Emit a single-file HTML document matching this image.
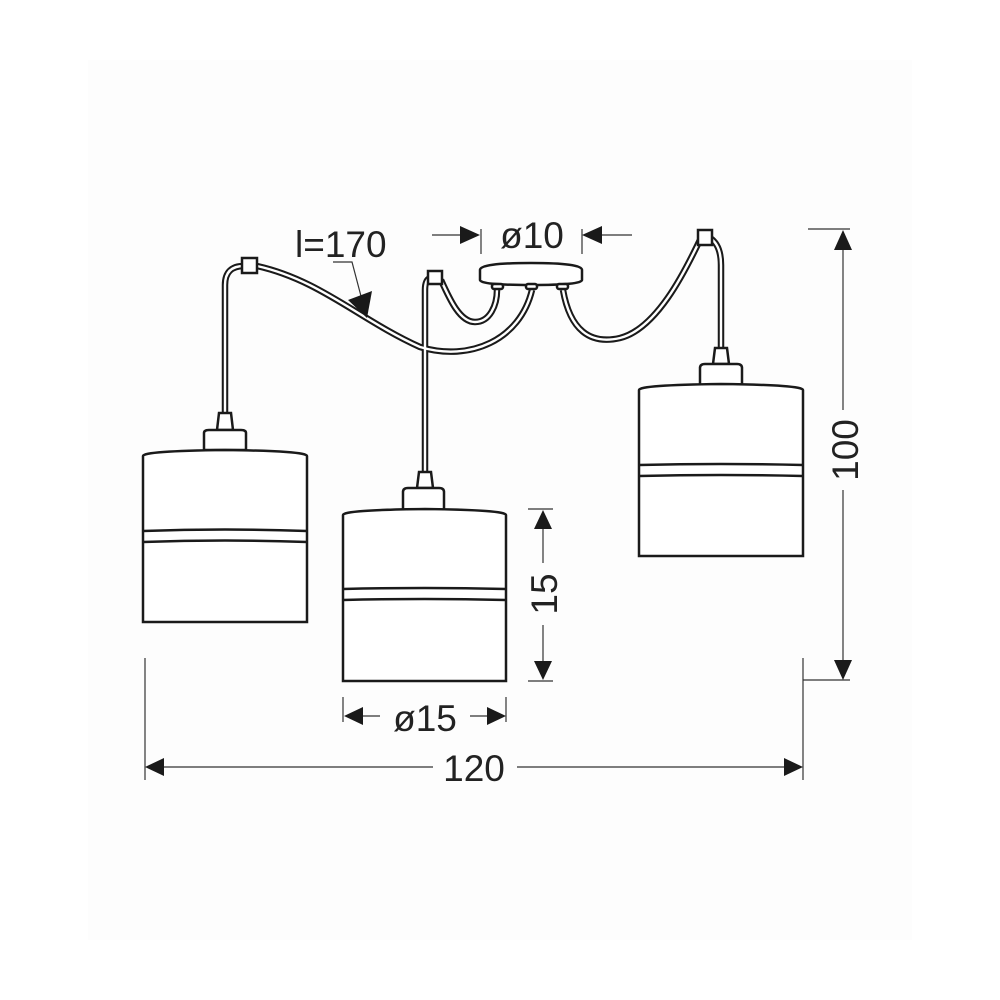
<!DOCTYPE html>
<html><head><meta charset="utf-8"><style>
html,body{margin:0;padding:0;background:#fff;}
svg{display:block;}
text{font-family:"Liberation Sans",sans-serif;fill:#222;}
</style></head><body>
<svg width="1000" height="1000" viewBox="0 0 1000 1000" xmlns="http://www.w3.org/2000/svg">
<rect x="0" y="0" width="1000" height="1000" fill="#fff"/>
<rect x="88" y="60" width="824" height="880" fill="#fdfdfd"/>

<g fill="none" stroke-linecap="butt">
 <g stroke="#1a1a1a" stroke-width="6.5">
  <path d="M225 413 L225 285 Q225 266 244 266"/>
  <path d="M257 266 C320 280 360 320 420 347 C470 362 520 340 532 290"/>
  <path d="M425 472 L425 290 Q425 280 430 278"/>
  <path d="M441 280 C450 300 460 322 475 322 C490 322 497 305 497 290"/>
  <path d="M563 290 C570 330 590 345 620 338 C660 328 690 260 700 240"/>
  <path d="M710 238 Q721 245 721 265 L721 348"/>
 </g>
 <g stroke="#fff" stroke-width="2.4">
  <path d="M225 413 L225 285 Q225 266 244 266"/>
  <path d="M257 266 C320 280 360 320 420 347 C470 362 520 340 532 290"/>
  <path d="M425 472 L425 290 Q425 280 430 278"/>
  <path d="M441 280 C450 300 460 322 475 322 C490 322 497 305 497 290"/>
  <path d="M563 290 C570 330 590 345 620 338 C660 328 690 260 700 240"/>
  <path d="M710 238 Q721 245 721 265 L721 348"/>
 </g>
</g>

<g fill="#fff" stroke="#1a1a1a" stroke-width="2.5">
 <rect x="242" y="258" width="15" height="15"/>
 <rect x="428" y="271" width="14" height="13"/>
 <rect x="698" y="230" width="14" height="15"/>
 <path d="M480 270 Q480 263 531 263 Q582 263 582 270 L582 280 Q582 285 531 285 Q480 285 480 280 Z"/>
 <rect x="492" y="284" width="11" height="5" rx="2"/>
 <rect x="526" y="284" width="11" height="5" rx="2"/>
 <rect x="557" y="284" width="11" height="5" rx="2"/>

 <path d="M219 413 L231 413 L233 430 L217 430 Z"/>
 <path d="M204 450 L204 433 Q204 430 209 430 L241 430 Q246 430 246 433 L246 450 Z"/>
 <path d="M143 456 Q143 451 225 450 Q307 451 307 456 L307 622 L143 622 Z"/>
 <path d="M143 531 Q225 528 307 531 M143 542 Q225 539 307 542" fill="none"/>

 <path d="M419 472 L431 472 L433 488 L417 488 Z"/>
 <path d="M403 510 L403 492 Q403 488 408 488 L439 488 Q444 488 444 492 L444 510 Z"/>
 <path d="M343 515 Q343 510 425 509 Q506 510 506 515 L506 681 L343 681 Z"/>
 <path d="M343 589 Q425 587 506 589 M343 600 Q425 598 506 600" fill="none"/>

 <path d="M715 348 L727 348 L729 364 L713 364 Z"/>
 <path d="M700 385 L700 368 Q700 364 705 364 L737 364 Q742 364 742 368 L742 385 Z"/>
 <path d="M639 390 Q639 385 721 384 Q803 385 803 390 L803 556 L639 556 Z"/>
 <path d="M639 465 Q721 463 803 465 M639 476 Q721 474 803 476" fill="none"/>
</g>

<g stroke="#333" stroke-width="1.2" fill="none">
 <path d="M432 235 L470 235 M481 229 L481 254 M592 235 L632 235 M582 229 L582 254"/>
 <path d="M333 262 L352 262 L362 300"/>
 <path d="M808 229 L850 229 M803 680 L850 680 M843 240 L843 410 M843 490 L843 668"/>
 <path d="M145 658 L145 780 M803 658 L803 780 M155 767 L433 767 M517 767 L793 767"/>
 <path d="M528 509 L553 509 M528 681 L553 681 M543 520 L543 563 M543 625 L543 670"/>
 <path d="M343 697 L343 722 M506 697 L506 722 M354 716 L380 716 M470 716 L496 716"/>
</g>
<g fill="#1a1a1a">
 <path d="M480 235 L460 226 L460 244 Z"/>
 <path d="M582 235 L602 226 L602 244 Z"/>
 <path d="M367 318 L348 300 L372 291 Z"/>
 <path d="M843 230 L834 250 L852 250 Z"/>
 <path d="M843 680 L834 660 L852 660 Z"/>
 <path d="M145 767 L164 758 L164 776 Z"/>
 <path d="M803 767 L784 758 L784 776 Z"/>
 <path d="M543 510 L534 529 L552 529 Z"/>
 <path d="M543 680 L534 661 L552 661 Z"/>
 <path d="M344 716 L363 707 L363 725 Z"/>
 <path d="M506 716 L487 707 L487 725 Z"/>
</g>

<g font-size="37">
 <text x="295" y="257">l=170</text>
 <text x="532" y="248" text-anchor="middle">ø10</text>
 <text x="474" y="781" text-anchor="middle">120</text>
 <text x="425" y="731" text-anchor="middle">ø15</text>
 <text transform="translate(858,450) rotate(-90)" text-anchor="middle">100</text>
 <text transform="translate(557,594) rotate(-90)" text-anchor="middle">15</text>
</g>
</svg>
</body></html>
